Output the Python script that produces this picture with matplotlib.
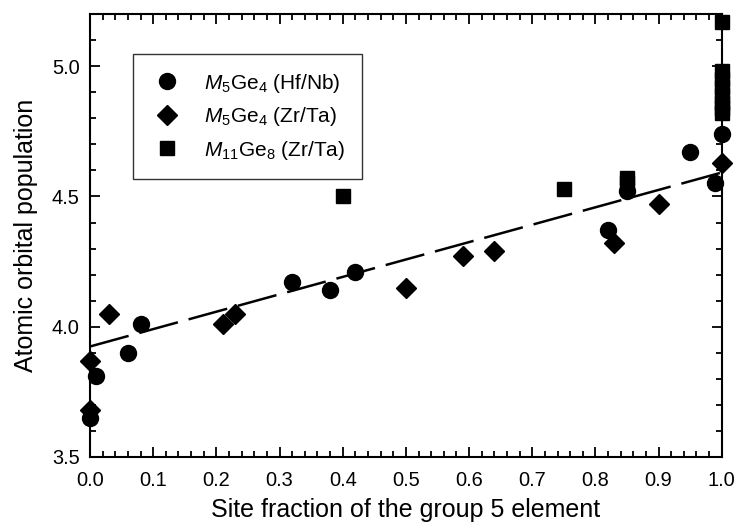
import matplotlib
matplotlib.use("Agg")
import matplotlib.pyplot as plt
import numpy as np
from matplotlib.ticker import MultipleLocator, FormatStrFormatter

plt.rcParams['font.family'] = ['Liberation Sans', 'DejaVu Sans']
plt.rcParams['mathtext.fontset'] = 'custom'
plt.rcParams['mathtext.rm'] = 'Liberation Sans'
plt.rcParams['mathtext.it'] = 'Liberation Sans:italic'

# M5Ge4 (Hf/Nb) - circles
hfnb_x = [0.0, 0.01, 0.06, 0.08, 0.32, 0.38, 0.42, 0.82, 0.85, 0.95, 0.99, 1.0]
hfnb_y = [3.65, 3.81, 3.90, 4.01, 4.17, 4.14, 4.21, 4.37, 4.52, 4.67, 4.55, 4.74]

# M5Ge4 (Zr/Ta) - diamonds
zrta_x = [0.0, 0.0, 0.03, 0.21, 0.23, 0.50, 0.59, 0.64, 0.83, 0.90, 1.0]
zrta_y = [3.68, 3.87, 4.05, 4.01, 4.05, 4.15, 4.27, 4.29, 4.32, 4.47, 4.63]

# M11Ge8 (Zr/Ta) - squares
m11_x = [0.40, 0.75, 0.85, 0.85, 1.0, 1.0, 1.0, 1.0, 1.0, 1.0, 1.0, 1.0]
m11_y = [4.50, 4.53, 4.57, 4.55, 5.17, 4.98, 4.95, 4.92, 4.89, 4.86, 4.84, 4.82]

# linear fit line endpoints
fit_x = [0.0, 1.0]
fit_y = [3.924, 4.592]

labels = [r'$M_5$Ge$_4$ (Hf/Nb)', r'$M_5$Ge$_4$ (Zr/Ta)', r'$M_{11}$Ge$_8$ (Zr/Ta)']

fig = plt.figure(figsize=(7.38, 5.24), dpi=100)
ax = fig.add_axes([0.122, 0.128, 0.856, 0.845])

lw = 1.8
line, = ax.plot(fit_x, fit_y, color='black', lw=lw, solid_capstyle='butt',
                dash_capstyle='butt', zorder=2)
line.set_dashes((28.8 / lw, 8.0 / lw))

ax.plot(hfnb_x, hfnb_y, 'o', color='black', ms=11.5, ls='none',
        clip_on=False, zorder=3, label=labels[0])
ax.plot(zrta_x, zrta_y, 'D', color='black', ms=10, ls='none',
        clip_on=False, zorder=3, label=labels[1])
ax.plot(m11_x, m11_y, 's', color='black', ms=10.5, ls='none',
        clip_on=False, zorder=3, label=labels[2])

ax.set_xlim(0, 1.0)
ax.set_ylim(3.5, 5.2)
ax.xaxis.set_major_locator(MultipleLocator(0.1))
ax.xaxis.set_minor_locator(MultipleLocator(0.02))
ax.yaxis.set_major_locator(MultipleLocator(0.5))
ax.yaxis.set_minor_locator(MultipleLocator(0.1))
ax.xaxis.set_major_formatter(FormatStrFormatter('%.1f'))
ax.yaxis.set_major_formatter(FormatStrFormatter('%.1f'))

ax.tick_params(which='both', direction='in', top=True, right=True, width=1.3)
ax.tick_params(which='major', length=7, labelsize=14.4)
ax.tick_params(axis='x', which='major', pad=10)
ax.tick_params(axis='y', which='major', pad=7.5)
ax.tick_params(which='minor', length=4.5)
for s in ax.spines.values():
    s.set_linewidth(1.5)

ax.set_xlabel('Site fraction of the group 5 element', fontsize=18, labelpad=6)
ax.set_ylabel('Atomic orbital population', fontsize=18, labelpad=10)

leg = ax.legend(loc='upper left', bbox_to_anchor=(0.068, 0.91), fontsize=15,
                frameon=True, fancybox=False, edgecolor='black',
                handlelength=1.6, handletextpad=0.94, borderpad=0.85,
                labelspacing=0.5, borderaxespad=0)
leg.get_frame().set_linewidth(1.0)

fig.savefig('out.png', dpi=100)
